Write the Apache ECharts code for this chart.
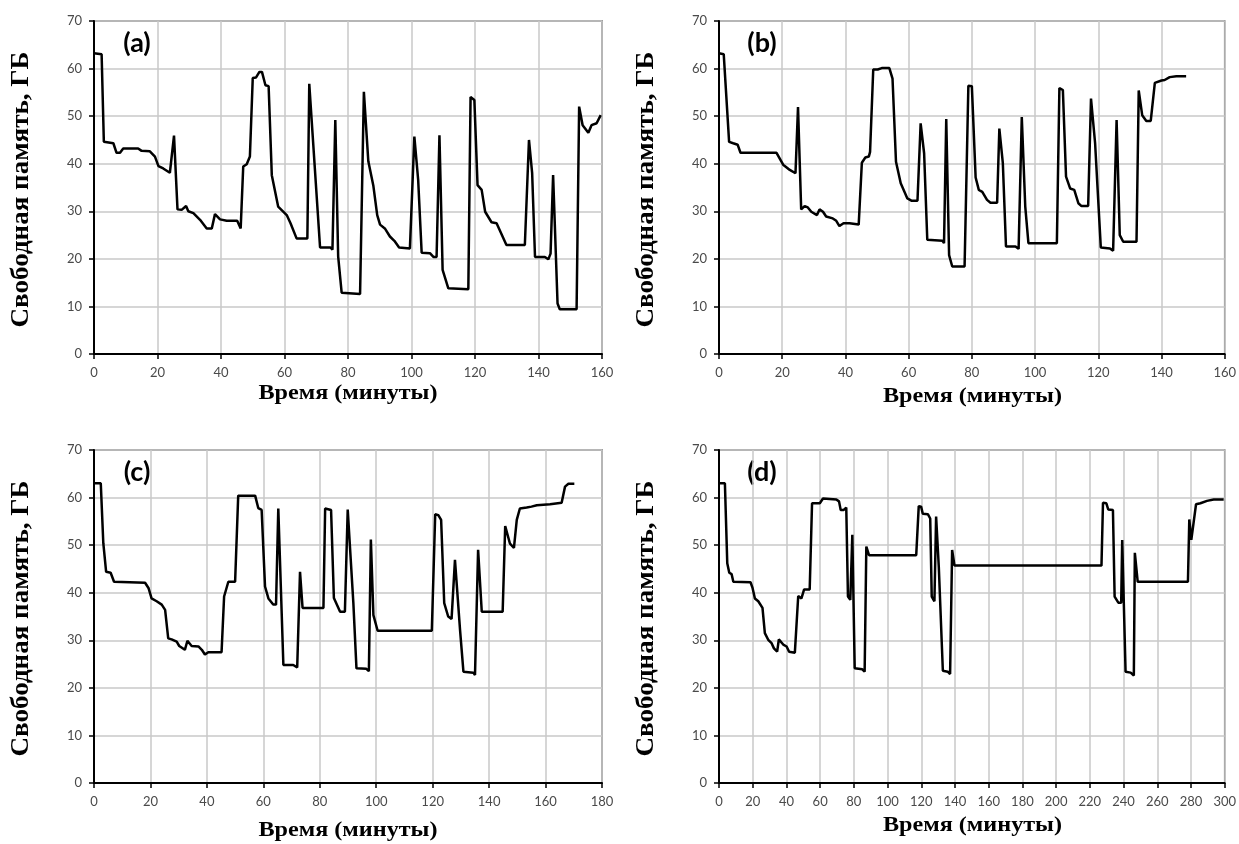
<!DOCTYPE html>
<html>
<head>
<meta charset="utf-8">
<script src="https://cdn.jsdelivr.net/npm/echarts@6/dist/echarts.min.js"></script>
<style>
html,body{margin:0;padding:0;background:#fff;}
#chart{width:1239px;height:844px;}
</style>
</head>
<body>
<div id="chart"></div>
<script>
// ---- Data (time in minutes, free memory in GB) ----
var timeA = [0,2.4,3.1,6.1,7.1,8.2,9.2,13.9,15,17.6,19.2,20.3,21.8,23.9,25.2,26.3,27.6,29,29.7,31.3,33.4,35.5,37.1,38.1,39.7,41.8,45.1,46.2,47,48.1,49.1,50,51,52.1,52.9,54,55,56,58,60.7,61.9,63.8,67.2,67.8,71.2,74.5,75.1,76,76.9,78,83.8,85,86.4,88,89.2,90.1,91.6,93.2,94.6,96.1,99.5,100.9,102.1,103.2,105.8,106.9,107.9,108.8,109.8,111.6,117.9,118.6,119.8,120.8,122.1,123.2,125.2,126.8,129.9,135.7,137,138,138.9,142,143.1,143.8,144.6,146,146.7,152,152.8,153.9,155.7,156.7,158.3,159.6];
var memA = [63.2,63,44.6,44.3,42.3,42.3,43.2,43.2,42.7,42.6,41.5,39.5,39,38.1,45.9,30.4,30.3,31.1,30,29.6,28.2,26.4,26.4,29.4,28.3,28,28,26.4,39.4,39.9,41.5,58,58.1,59.3,59.3,56.5,56.3,37.6,31,29.2,27.5,24.3,24.3,56.8,22.4,22.4,21.9,49.2,20.5,12.9,12.6,55.1,40.5,35.3,29.2,27.2,26.4,24.7,23.8,22.4,22.2,45.7,36.6,21.3,21.2,20.4,20.4,46,17.7,13.8,13.6,54,53.4,35.5,34.5,29.9,27.7,27.5,22.9,22.9,45,38,20.4,20.4,19.9,21.1,37.6,10.6,9.4,9.4,52,48.1,46.5,48.1,48.5,50.2];

var timeB = [0,1.5,3.2,4.5,5.9,6.8,18.2,20.3,22.4,24.2,25,26,27.1,28.1,29.2,31,31.8,32.9,33.9,36,37.1,38.1,39.4,41.3,44.2,45.2,46.3,47.4,47.8,48.8,50.2,51.5,53.9,54.9,56,57.5,59.6,61,62.8,63.8,64.9,65.9,70.7,71.2,71.9,72.8,73.8,77.7,78.9,80,81.2,82.2,83.3,84.8,85.9,88,88.7,89.8,90.8,93.8,94.8,95.8,96.9,97.9,106.9,107.7,108.8,109.8,111.1,112.4,113.7,114.7,116.8,117.7,119,120.8,123.7,124.7,125.8,126.8,127.9,132.1,132.8,133.9,135.2,136.6,137.9,140,141,142.6,144.7,147.8];
var memB = [63.2,63,44.6,44.3,44,42.3,42.3,39.8,38.7,38,51.9,30.4,31.1,30.8,29.9,29.2,30.4,29.9,28.9,28.5,28,26.9,27.5,27.5,27.2,40.2,41.3,41.5,42.5,59.8,59.8,60.1,60.1,57.9,40.4,35.9,32.7,32.2,32.2,48.5,42.2,24,23.8,23.3,49.4,20.8,18.4,18.4,56.4,56.3,37.1,34.5,34.1,32.4,31.8,31.8,47.4,40.2,22.6,22.6,22.1,49.8,31,23.3,23.3,55.9,55.5,37.3,34.8,34.5,31.7,31.1,31.1,53.7,44.3,22.4,22.2,21.7,49.2,25,23.6,23.6,55.4,50.2,49,49,57,57.5,57.6,58.2,58.4,58.4];

var timeC = [0.3,2.4,3.3,4.3,5.9,7.1,18.1,19.3,20.4,22.2,24,25.2,26.3,27.5,29.3,30.2,32.2,33.1,34.6,37,38.2,39.3,40.5,45.2,46.1,47.6,50,51.1,57.1,58.2,59.4,60.6,61.8,63.5,64.5,65.3,67.1,70.6,72,73,73.9,81.3,81.9,84,85,87.2,88.9,89.9,91.9,93,96.5,97.4,98.1,99,100.5,119.7,120.9,122,123,124.1,125.5,126.7,127.9,129.7,130.9,134.4,135,136.1,137.4,144.8,145.7,147.4,148.8,149.8,150.9,153.3,155,156.9,161.6,165.7,166.9,168.1,170.2];
var memC = [63,63,50.4,44.4,44.2,42.3,42.1,41,38.8,38.2,37.5,36.4,30.4,30.2,29.7,28.8,28,29.9,28.8,28.7,28,27,27.5,27.5,39.2,42.3,42.3,60.4,60.4,57.8,57.4,41.3,38.8,37.5,37.5,57.7,24.8,24.8,24.3,44.4,36.8,36.8,57.7,57.4,38.9,36,36,57.5,37.8,24.1,24,23.5,51.2,35.3,32,32,56.5,56.3,55.3,37.8,35,34.5,46.9,32.2,23.4,23.2,22.7,49,36,36,54,50.3,49.4,55.3,57.7,57.9,58.1,58.4,58.6,58.9,62.3,62.9,62.9];

var timeD = [0.6,3.5,4.9,6.1,7.5,8.5,18.7,19.9,21.3,23.3,25.8,27.2,29.2,31.2,32.6,34.5,35.5,38.1,40.1,41.6,45,47,48.9,50.5,53.8,55.2,59.8,61.7,69.6,71.2,72.2,74,75.5,76.5,77.9,79.1,80.5,85,86.4,87.4,89,117,118.5,119.9,120.9,123.9,125.3,126.2,127.8,128.8,130.4,132.8,135.7,137.1,138.3,139.7,226.9,227.8,229.8,230.9,233.7,234.7,236.9,238.6,239.2,241.2,244.2,246.1,246.7,248.4,278.2,279,280.2,281.2,283,285.6,289.5,293.5,299.4];
var memD = [63,63,46.2,44.2,43.9,42.3,42.2,41,38.8,38.2,36.8,31.5,30.1,29.4,28.3,27.6,30.2,29.1,28.7,27.6,27.4,39.3,38.8,40.7,40.7,58.8,58.8,59.8,59.6,59.2,57.4,57.4,57.9,39.2,38.5,52.2,24.1,23.9,23.4,49.7,47.9,47.9,58.2,58.1,56.6,56.5,55.6,39.2,38.2,56,45.4,23.6,23.4,22.9,49,45.7,45.7,58.9,58.8,57.5,57.4,39.2,37.9,37.9,51.1,23.4,23.2,22.6,48.4,42.3,42.3,55.4,51.1,51.2,58.6,58.8,59.3,59.6,59.6];

var panelLabels = ['(a)', '(b)', '(c)', '(d)'];
var xMaxes = [160, 160, 180, 300];
var yAxisTitle = 'Свободная память, ГБ';
var xAxisTitle = 'Время (минуты)';

function zip(t, v) {
  var out = [];
  for (var i = 0; i < Math.min(t.length, v.length); i++) out.push([t[i], v[i]]);
  return out;
}
var seriesData = [zip(timeA, memA), zip(timeB, memB), zip(timeC, memC), zip(timeD, memD)];

// ---- Layout ----
var grids = [
  {left: 94, top: 21, width: 508, height: 333},
  {left: 719, top: 21, width: 507, height: 333},
  {left: 94, top: 450, width: 508, height: 333},
  {left: 719, top: 450, width: 507, height: 333}
];

var tickFont = 'Lato';
var option = {
  animation: false,
  backgroundColor: '#ffffff',
  grid: grids.map(function (g) {
    return {left: g.left, top: g.top, width: g.width, height: g.height,
      show: true, borderColor: '#555', borderWidth: 1.5, backgroundColor: 'transparent'};
  }),
  xAxis: grids.map(function (g, i) {
    return {
      type: 'value', gridIndex: i, min: 0, max: xMaxes[i], interval: 20,
      axisLine: {show: true, onZero: false, lineStyle: {color: '#000', width: 2}},
      axisTick: {show: true, length: 5, lineStyle: {color: '#000', width: 1.5}},
      axisLabel: {show: true, margin: 12, color: '#4a4a4a', fontSize: 13, fontFamily: tickFont},
      splitLine: {show: true, lineStyle: {color: '#c8c8c8', width: 1.5}}
    };
  }),
  yAxis: grids.map(function (g, i) {
    return {
      type: 'value', gridIndex: i, min: 0, max: 70, interval: 10,
      axisLine: {show: true, onZero: false, lineStyle: {color: '#000', width: 2}},
      axisTick: {show: true, length: 5, lineStyle: {color: '#000', width: 1.5}},
      axisLabel: {show: true, margin: 12, color: '#4a4a4a', fontSize: 13, fontFamily: tickFont},
      splitLine: {show: true, lineStyle: {color: '#c8c8c8', width: 1.5}}
    };
  }),
  series: seriesData.map(function (d, i) {
    return {
      type: 'line', xAxisIndex: i, yAxisIndex: i, data: d,
      showSymbol: false, symbol: 'none', smooth: false,
      lineStyle: {color: '#000', width: 2.5},
      z: 5
    };
  }),
  graphic: []
};

var yTitleX = [21, 646, 21, 646];
var xTitleY = [394, 397, 831, 826];
grids.forEach(function (g, i) {
  option.graphic.push({
    type: 'text', x: yTitleX[i], y: g.top + g.height / 2 + 2, rotation: Math.PI / 2, scaleX: 1.04,
    style: {text: yAxisTitle, font: 'bold 26px "Liberation Serif"', fill: '#000',
      textAlign: 'center', textVerticalAlign: 'middle'}
  });
  option.graphic.push({
    type: 'text', x: g.left + g.width / 2, y: xTitleY[i], scaleX: 1.15,
    style: {text: xAxisTitle, font: 'bold 21px "Liberation Serif"', fill: '#000',
      textAlign: 'center', textVerticalAlign: 'middle'}
  });
  option.graphic.push({
    type: 'text', x: g.left + 43, y: g.top + 22,
    style: {text: panelLabels[i], font: 'bold 27px Lato', fill: '#000',
      textAlign: 'center', textVerticalAlign: 'middle'}
  });
});

var chart = echarts.init(document.getElementById('chart'), null, {renderer: 'canvas'});
chart.setOption(option);
</script>
</body>
</html>
